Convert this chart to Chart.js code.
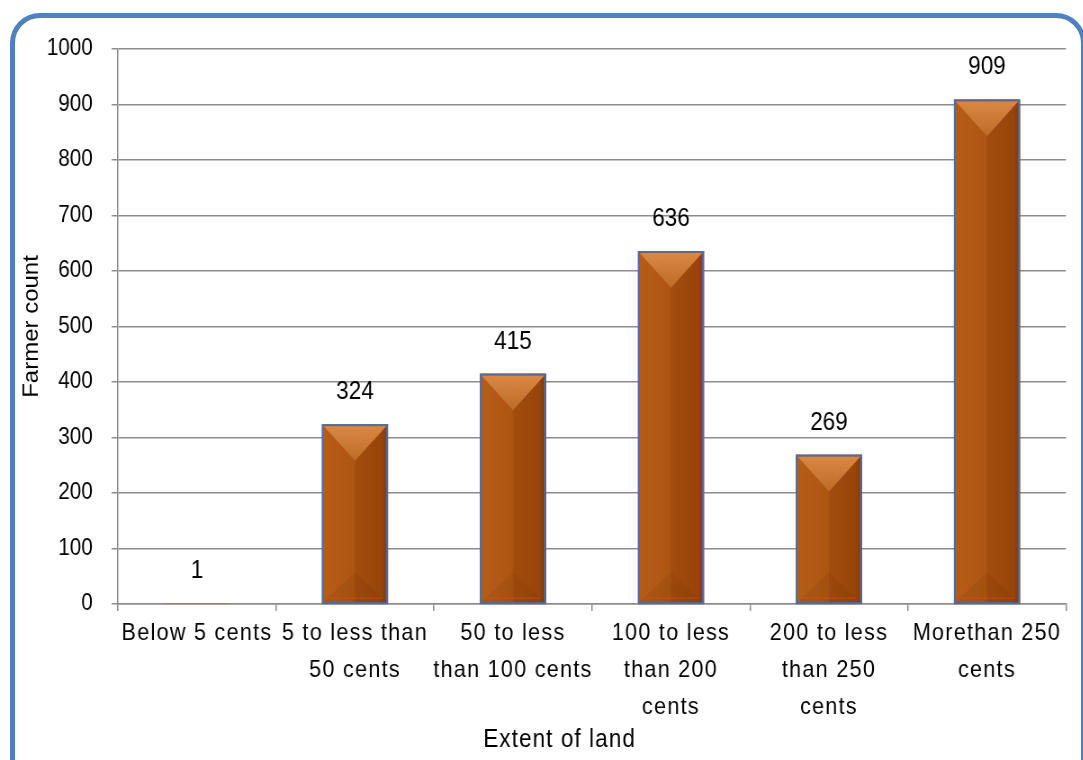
<!DOCTYPE html>
<html>
<head>
<meta charset="utf-8">
<script src="https://cdn.jsdelivr.net/npm/chart.js@4.4.1/dist/chart.umd.min.js"></script>
<style>
  html, body { margin: 0; padding: 0; background: #ffffff; overflow: hidden; }
  #wrap {
    position: absolute; left: 0; top: 0;
    width: 1203px; height: 760px;
    transform: scaleX(0.9); transform-origin: 0 0;
  }
  #frame {
    position: absolute; left: 10px; top: 13px;
    width: 1076px; height: 800px;
    box-sizing: border-box;
    border: 5.5px solid #4f81bd;
    border-radius: 30px;
    pointer-events: none;
  }
</style>
</head>
<body>
<div id="wrap"><canvas id="chart"></canvas></div>
<div id="frame"></div>
<script>
// Land holding classes and the number of farmers in each
const categories = [
  ['Below 5 cents'],
  ['5 to less than', '50 cents'],
  ['50 to less', 'than 100 cents'],
  ['100 to less', 'than 200', 'cents'],
  ['200 to less', 'than 250', 'cents'],
  ['Morethan 250', 'cents']
];
const farmerCounts = [1, 324, 415, 636, 269, 909];
const yTicks = [0, 100, 200, 300, 400, 500, 600, 700, 800, 900, 1000];

const FONT = '"Liberation Sans", Arial, Helvetica, sans-serif';
const GRID = '#8c8c8c';

// Bevelled brown columns drawn over each bar element's own geometry
const bevelBars = {
  id: 'bevelBars',
  afterDatasetsDraw(chart) {
    const ctx = chart.ctx;
    const meta = chart.getDatasetMeta(0);
    meta.data.forEach((bar) => {
      const p = bar.getProps(['x', 'y', 'base', 'width'], true);
      const L = p.x - p.width / 2, R = p.x + p.width / 2;
      const T = Math.min(p.y, p.base), B = Math.max(p.y, p.base);
      const h = B - T, w = R - L, cx = p.x;
      if (h < 2) return;
      ctx.save();
      // body: lighter left half, darker right half
      const g = ctx.createLinearGradient(L, 0, R, 0);
      g.addColorStop(0, '#b65e18');
      g.addColorStop(0.49, '#ad5613');
      g.addColorStop(0.51, '#a34c0e');
      g.addColorStop(0.9, '#97450b');
      g.addColorStop(1, '#823906');
      ctx.fillStyle = g;
      ctx.fillRect(L, T, w, h);
      const d = Math.min(w / 2, h / 2);
      // top bevel
      const gt = ctx.createLinearGradient(0, T, 0, T + d);
      gt.addColorStop(0, '#dc8946');
      gt.addColorStop(1, '#be6a28');
      ctx.fillStyle = gt;
      ctx.beginPath();
      ctx.moveTo(L, T); ctx.lineTo(R, T); ctx.lineTo(cx, T + d); ctx.closePath();
      ctx.fill();
      // bottom bevel
      const db = Math.min(w * 0.42, h / 2);
      ctx.fillStyle = 'rgba(110, 42, 4, 0.12)';
      ctx.beginPath();
      ctx.moveTo(L, B); ctx.lineTo(R, B); ctx.lineTo(cx, B - db); ctx.closePath();
      ctx.fill();
      ctx.strokeStyle = 'rgba(205, 80, 30, 0.45)';
      ctx.lineWidth = 1.5;
      ctx.beginPath();
      ctx.moveTo(L + 6, B - 5); ctx.lineTo(R - 6, B - 5);
      ctx.stroke();
      // outline
      ctx.strokeStyle = '#4b6ea7';
      ctx.lineWidth = 2;
      ctx.strokeRect(L + 1, T + 1, w - 2, h - 1);
      ctx.restore();
    });
  }
};

// Value written above every column
const valueLabels = {
  id: 'valueLabels',
  afterDatasetsDraw(chart) {
    const ctx = chart.ctx;
    const meta = chart.getDatasetMeta(0);
    const values = chart.data.datasets[0].data;
    ctx.save();
    ctx.font = '25px ' + FONT;
    ctx.fillStyle = '#000000';
    ctx.textAlign = 'center';
    ctx.textBaseline = 'middle';
    meta.data.forEach((bar, i) => {
      ctx.fillText(String(values[i]), bar.x, bar.y - 32);
    });
    ctx.restore();
  }
};

// Looser tracking for the category labels; axis title centred on the whole panel
const xTracking = {
  id: 'xTracking',
  beforeDraw(chart) {
    const xs = chart.scales.x;
    if (xs._tracked) return;
    const drawLabels = xs.drawLabels;
    const drawTitle = xs.drawTitle;
    xs.drawLabels = function (area) {
      const c = this.ctx; c.save(); c.letterSpacing = '1.4px'; drawLabels.call(this, area); c.restore();
    };
    xs.drawTitle = function (area) {
      const c = this.ctx; c.save(); c.letterSpacing = '1.2px'; c.translate(-36, 0); drawTitle.call(this, area); c.restore();
    };
    xs._tracked = true;
  }
};

new Chart(document.getElementById('chart'), {
  type: 'bar',
  data: {
    labels: categories,
    datasets: [{
      label: 'Farmer count',
      data: farmerCounts,
      backgroundColor: '#a9530f',
      borderColor: '#4b6ea7',
      borderWidth: 0,
      barPercentage: 0.418,
      categoryPercentage: 1.0
    }]
  },
  options: {
    responsive: true,
    maintainAspectRatio: false,
    animation: false,
    layout: { padding: { top: 49, right: 18.6, bottom: 0, left: 0 } },
    plugins: {
      legend: { display: false },
      tooltip: { enabled: false }
    },
    scales: {
      x: {
        grid: {
          display: true,
          drawOnChartArea: false,
          color: GRID,
          lineWidth: 1.5,
          tickLength: 7,
          offset: true
        },
        border: { display: true, color: GRID, width: 1.5 },
        ticks: {
          color: '#000000',
          font: { family: FONT, size: 24, lineHeight: 1.54 },
          padding: 4,
          maxRotation: 0,
          minRotation: 0,
          autoSkip: false
        },
        title: {
          display: true,
          text: 'Extent of land',
          color: '#000000',
          font: { family: FONT, size: 25, lineHeight: 1.2 },
          padding: { top: 0, bottom: 5 }
        },
        afterFit(scale) { scale.height = 156; }
      },
      y: {
        min: 0,
        max: 1000,
        afterBuildTicks(scale) { scale.ticks = yTicks.map(v => ({ value: v })); },
        grid: {
          color: GRID,
          lineWidth: 1.5,
          tickLength: 7
        },
        border: { display: true, color: GRID, width: 1.5 },
        ticks: {
          color: '#000000',
          font: { family: FONT, size: 23 },
          padding: 21,
          callback: (v) => String(v)
        },
        title: {
          display: true,
          text: 'Farmer count',
          color: '#000000',
          font: { family: FONT, size: 24, lineHeight: 1.2 },
          padding: { top: 21, bottom: 0 }
        },
        afterFit(scale) { scale.width = 131.1; }
      }
    }
  },
  plugins: [xTracking, bevelBars, valueLabels]
});
</script>
</body>
</html>
